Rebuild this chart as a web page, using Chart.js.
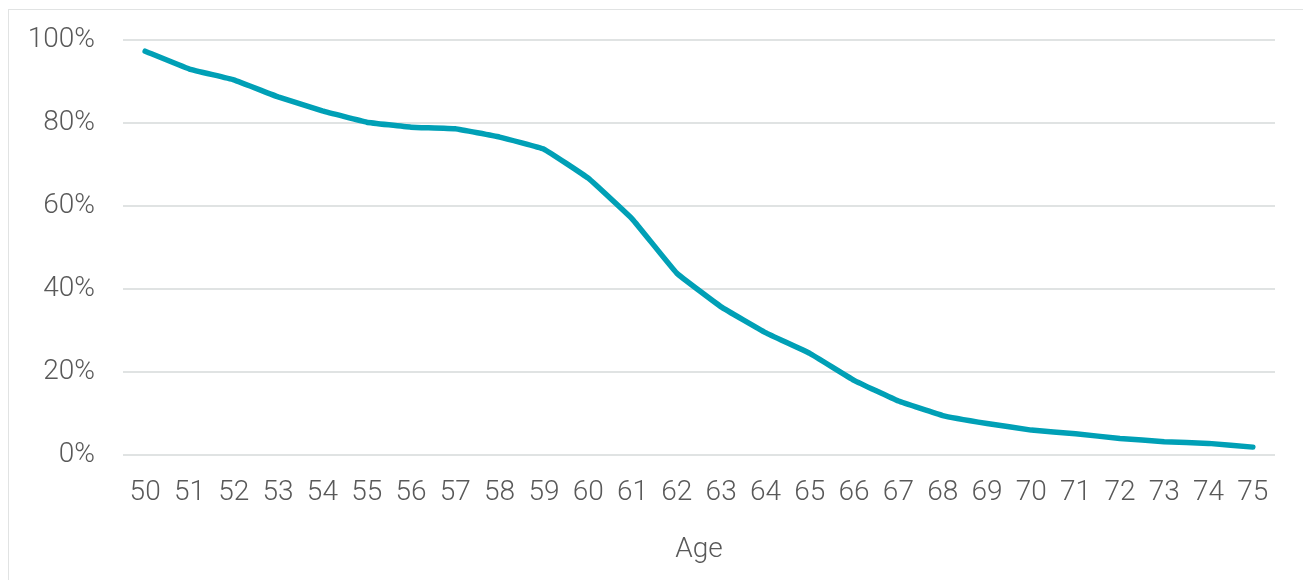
<!DOCTYPE html>
<html>
<head>
<meta charset="utf-8">
<script src="https://cdn.jsdelivr.net/npm/chart.js@4/dist/chart.umd.min.js"></script>
<style>
    html, body { margin: 0; padding: 0; background: #fff; overflow: hidden; }
    #frame {
        position: absolute; left: 8px; top: 9px;
        width: 1310px; height: 590px;
        border: 1px solid #e1e3e3;
        box-sizing: border-box;
    }
    #wrap { position: absolute; left: 0; top: 0; width: 1303px; height: 580px; }
</style>
</head>
<body>
<div id="frame"></div>
<div id="wrap"><canvas id="ageChart" width="1303" height="580"></canvas></div>
<script>
// Share still working, by age
const ages = ['50', '51', '52', '53', '54', '55', '56', '57', '58', '59', '60', '61', '62',
              '63', '64', '65', '66', '67', '68', '69', '70', '71', '72', '73', '74', '75'];
const shareWorking = [97.3, 93.0, 90.4, 86.3, 82.9, 80.2, 79.0, 78.6, 76.6, 73.7, 66.7, 56.8, 43.8,
                      35.7, 29.5, 24.5, 18.0, 13.0, 9.5, 7.6, 6.0, 5.1, 4.0, 3.2, 2.8, 1.9];
const yTicks = [0, 20, 40, 60, 80, 100];

document.addEventListener('DOMContentLoaded', function() {
    const font = { family: 'Roboto, "Noto Sans", sans-serif', size: 28, weight: 300 };
    const ctx = document.getElementById('ageChart').getContext('2d');

    new Chart(ctx, {
        type: 'line',
        data: {
            labels: ages,
            datasets: [{
                label: 'Share',
                data: shareWorking,
                borderColor: '#00a0b6',
                borderWidth: 5.5,
                borderCapStyle: 'round',
                borderJoinStyle: 'round',
                pointRadius: 0,
                tension: 0.08,
                fill: false
            }]
        },
        options: {
            responsive: false,
            animation: false,
            layout: { padding: { top: 40, right: 28, bottom: 0, left: 0 } },
            plugins: {
                legend: { display: false },
                tooltip: { enabled: false }
            },
            scales: {
                x: {
                    offset: true,
                    grid: { display: false, drawTicks: false },
                    border: { display: false },
                    ticks: { color: '#595959', font: font, padding: 21, maxRotation: 0, autoSkip: false },
                    title: { display: true, text: 'Age', color: '#595959', font: font, padding: { top: 0, bottom: 13 } },
                    afterFit: s => { s.height = 125; s.paddingLeft = 0; s.paddingRight = 0; }
                },
                y: {
                    min: 0,
                    max: 100,
                    afterBuildTicks: s => { s.ticks = yTicks.map(v => ({ value: v })); },
                    grid: { color: '#e0e3e3', lineWidth: 2, drawTicks: false },
                    border: { display: false },
                    ticks: { color: '#595959', font: font, padding: 28, callback: v => v + '%' },
                    afterFit: s => { s.width = 123; s.paddingTop = 0; s.paddingBottom = 0; }
                }
            }
        }
    });
});
</script>
</body>
</html>
